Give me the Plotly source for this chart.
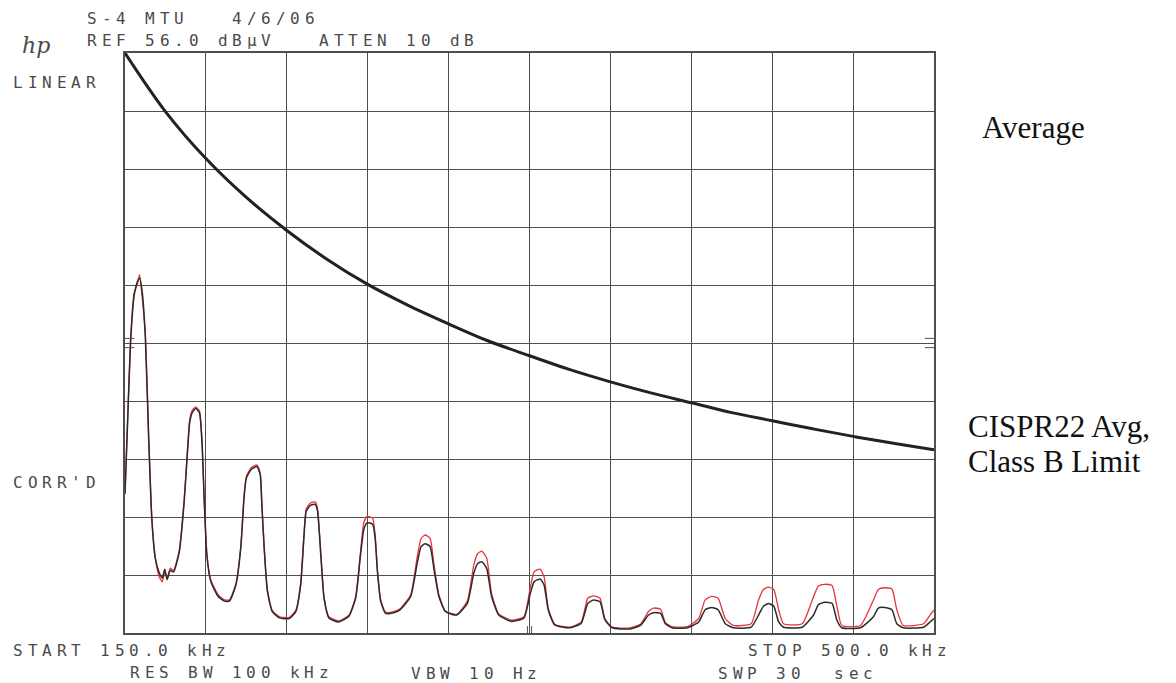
import plotly.graph_objects as go

# ---------------- data (frequency in kHz, level in % of REF 56.0 dBuV, linear scale) ----------------
freq_khz = [150.0, 151.1, 152.4, 153.9, 155.3, 156.3, 157.4, 158.8, 160.2, 161.6,
            163.1, 164.7, 166.1, 167.2, 168.2, 169.6, 171.0, 173.5, 175.6, 177.0,
            178.0, 179.1, 180.6, 182.2, 183.3, 184.3, 185.4, 187.1, 190.3, 193.1,
            195.2, 198.0, 200.1, 201.5, 202.5, 204.6, 207.1, 208.5, 209.2, 210.2,
            211.6, 213.7, 216.9, 221.1, 223.9, 226.0, 227.4, 228.4, 230.2, 232.3,
            233.3, 234.7, 236.1, 238.2, 242.4, 246.9, 249.8, 251.9, 253.3, 254.7,
            257.1, 258.2, 259.2, 260.6, 262.7, 266.2, 269.0, 273.6, 276.4, 278.1,
            279.9, 282.0, 283.7, 285.8, 288.6, 293.5, 298.1, 300.9, 302.6, 304.4,
            306.5, 308.6, 311.7, 317.3, 322.6, 325.4, 327.1, 329.6, 331.3, 333.1,
            335.9, 342.5, 347.4, 350.2, 352.7, 355.5, 357.6, 360.7, 368.4, 373.0,
            376.5, 378.6, 381.7, 383.8, 386.6, 393.3, 398.2, 401.0, 403.8, 406.6,
            409.7, 413.2, 420.9, 424.1, 426.2, 428.3, 430.7, 432.8, 434.9, 443.0,
            447.9, 450.0, 452.8, 455.9, 458.0, 460.1, 468.2, 473.8, 475.9, 478.7,
            481.8, 483.9, 486.7, 495.5, 498.3, 500.0]

trace_black = [24, 36, 50, 58, 60.5, 61.2, 59, 51, 34, 19.7,
               12.9, 10.5, 9.5, 11, 9.2, 10.8, 10.5, 14, 22.6, 31,
               36.3, 38, 38.7, 38, 32.9, 22.6, 13.4, 8.9, 6.3, 5.5,
               5.5, 8.3, 14.7, 23.3, 26.7, 28.2, 28.7, 27.3, 22.1, 14.7,
               7.2, 3.7, 2.6, 2.5, 3.7, 8.3, 16.4, 21, 22, 22.2,
               21, 13.5, 6, 2.6, 1.9, 2.9, 6, 13.5, 17.8, 19,
               18.8, 16.4, 10.6, 5.5, 3.4, 3.5, 4, 6.3, 12, 14.9,
               15.4, 14.9, 10.9, 6.3, 3.7, 3.1, 5.1, 10.3, 12, 12.3,
               11.1, 6.3, 3.1, 2, 2.6, 6.9, 8.9, 9.3, 8.3, 4,
               1.4, 0.9, 1.7, 5.1, 5.7, 5.4, 2.3, 0.9, 0.7, 1.3,
               3.1, 3.5, 3.4, 1.6, 0.9, 0.9, 1.9, 4, 4.4, 4,
               1.6, 0.9, 1, 3.1, 4.6, 5.1, 4.6, 1.9, 1, 1,
               3.1, 4.9, 5.3, 5.1, 2.2, 0.9, 0.9, 2.8, 4.3, 4.4,
               4, 1.6, 0.9, 1, 1.9, 2.5]

trace_red = [24, 36.5, 50.5, 58.5, 60, 61.8, 58, 51.5, 34.5, 20,
             13, 9.8, 8.8, 10.5, 9.5, 11.2, 10.8, 14.3, 23, 31.5,
             36.8, 38.4, 39, 38.3, 33.3, 23, 13.8, 9.2, 6.6, 5.7,
             5.7, 8.6, 15, 23.6, 27, 28.5, 29, 27.6, 22.4, 15,
             7.5, 3.9, 2.8, 2.7, 3.9, 8.6, 16.8, 21.4, 22.4, 22.6,
             21.4, 13.8, 6.3, 2.8, 2.1, 3.1, 6.3, 14, 19, 20.1,
             19.8, 17, 11, 5.8, 3.6, 3.7, 4.2, 6.6, 13.1, 16.3,
             16.9, 16.3, 11.7, 6.6, 3.8, 3.2, 5.5, 11.7, 13.7, 14.1,
             12.9, 6.8, 3.3, 2.2, 2.8, 8, 10.6, 11, 9.7, 4.3,
             1.5, 1, 1.9, 6, 6.4, 6, 2.5, 1, 0.9, 1.5,
             3.7, 4.3, 4.1, 1.8, 1.1, 1.1, 2.5, 5.7, 6.3, 6,
             2.5, 1.3, 1.6, 5.7, 7.5, 7.9, 7.5, 4, 1.6, 1.6,
             6.3, 8.1, 8.4, 8.2, 4.6, 1.3, 1.3, 5.7, 7.5, 7.8,
             7.6, 4, 1.3, 1.6, 3.1, 4]

limit_khz = [150.0, 167.5, 185.0, 202.5, 220.0, 237.5, 255.0, 272.5, 290.0, 307.5,
             325.0, 342.5, 360.0, 377.5, 395.0, 412.5, 430.0, 447.5, 465.0, 482.5, 500.0]
limit_level = [100, 89.9, 81.8, 75.1, 69.4, 64.4, 60.1, 56.5, 53.3, 50.3,
               47.8, 45.4, 43.3, 41.4, 39.7, 38.0, 36.6, 35.2, 33.9, 32.7, 31.6]

x_start, x_stop, x_div = 150, 500, 35
y_min, y_max, y_div = 0, 100, 10

# ---------------- style / layout ----------------
W, H = 1176, 683
L, R, T, B = 125, 934, 53, 633
GRID = "#4f4f4f"
TEXT = "#4a4a4a"
PITCH = 14.5

fig = go.Figure()
fig.add_trace(go.Scatter(x=freq_khz, y=trace_red, mode="lines",
                         line=dict(color="#e8343a", width=1.3, shape="spline", smoothing=0.5),
                         showlegend=False, hoverinfo="skip"))
fig.add_trace(go.Scatter(x=freq_khz, y=trace_black, mode="lines",
                         line=dict(color="#2b2b2b", width=1.5, shape="spline", smoothing=0.5),
                         showlegend=False, hoverinfo="skip"))
fig.add_trace(go.Scatter(x=limit_khz, y=limit_level, mode="lines",
                         line=dict(color="#222222", width=3, shape="spline", smoothing=1.0),
                         showlegend=False, hoverinfo="skip"))


def px_x(px):
    return (px - L) / (R - L)


def px_y(py):
    return (B - py) / (B - T)


annotations = []


def plot_text(s, px, py, size=16):
    for i, ch in enumerate(s):
        if ch == " ":
            continue
        annotations.append(dict(
            text=ch, x=px_x(px + i * PITCH + 5), y=px_y(py), xref="paper", yref="paper",
            xanchor="center", yanchor="middle", showarrow=False,
            font=dict(family="DejaVu Sans Mono", size=size, color=TEXT)))


plot_text("S-4 MTU   4/6/06", 87, 18)
plot_text("REF 56.0 dBμV   ATTEN 10 dB", 87, 41)
plot_text("LINEAR", 13, 82)
plot_text("CORR'D", 13, 482)
plot_text("START 150.0 kHz", 13, 650)
plot_text("RES BW 100 kHz", 130, 672)
plot_text("VBW 10 Hz", 411, 673)
plot_text("STOP 500.0 kHz", 748, 650)
plot_text("SWP 30  sec", 718, 673)

# hp logo
annotations.append(dict(text="<i>hp</i>", x=px_x(36), y=px_y(46), xref="paper", yref="paper",
                        xanchor="center", yanchor="middle", showarrow=False,
                        font=dict(family="DejaVu Serif", size=22, color=TEXT)))

# side labels
for s, py in [("Average", 127), ("CISPR22 Avg,", 426), ("Class B Limit", 461)]:
    annotations.append(dict(text=s, x=px_x(966 if s != "Average" else 980), y=px_y(py),
                            xref="paper", yref="paper", xanchor="left", yanchor="middle",
                            showarrow=False,
                            font=dict(family="Liberation Serif", size=31, color="#111111")))

# small plotter reference marks (centre of screen)
shapes = []
for dy in (-0.8, 0.8):
    shapes.append(dict(type="line", xref="x", yref="y", x0=x_start, x1=x_start + 4,
                       y0=50 + dy, y1=50 + dy, line=dict(color=GRID, width=1)))
    shapes.append(dict(type="line", xref="x", yref="y", x0=x_stop - 4, x1=x_stop,
                       y0=50 + dy, y1=50 + dy, line=dict(color=GRID, width=1)))
for dx in (-0.9, 0.9):
    shapes.append(dict(type="line", xref="x", yref="y", x0=325 + dx, x1=325 + dx,
                       y0=0, y1=1.2, line=dict(color=GRID, width=1)))

fig.update_layout(
    width=W, height=H,
    margin=dict(l=L, r=W - R, t=T, b=H - B),
    paper_bgcolor="white", plot_bgcolor="white",
    annotations=annotations, shapes=shapes,
    xaxis=dict(range=[x_start, x_stop], dtick=x_div, tick0=x_start, showticklabels=False,
               ticks="", showgrid=True, gridcolor=GRID, gridwidth=1.4, zeroline=False,
               showline=True, mirror=True, linecolor=GRID, linewidth=1.6, fixedrange=True),
    yaxis=dict(range=[y_min, y_max], dtick=y_div, tick0=0, showticklabels=False,
               ticks="", showgrid=True, gridcolor=GRID, gridwidth=1.4, zeroline=False,
               showline=True, mirror=True, linecolor=GRID, linewidth=1.6, fixedrange=True),
)

fig.write_html("out.html", config={"displayModeBar": False})
